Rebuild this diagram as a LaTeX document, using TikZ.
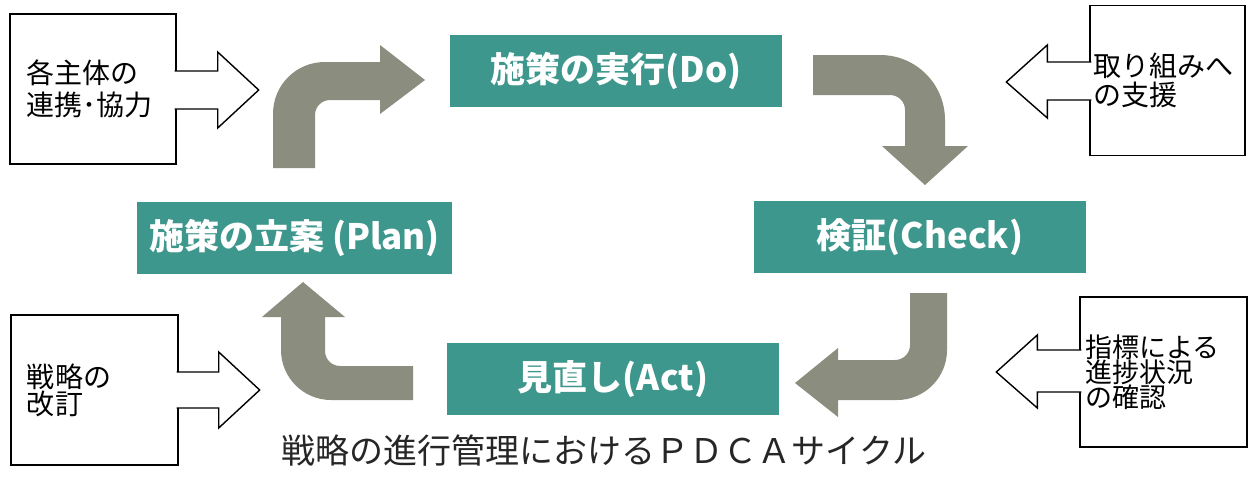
\documentclass[tikz,border=0pt]{standalone}
\usepackage{fontspec}
\newfontfamily\jp{Noto Sans CJK JP}
\definecolor{teal1}{RGB}{62,151,140}
\definecolor{arr}{RGB}{139,141,126}

\begin{document}
\begin{tikzpicture}[x=1pt,y=-1pt]
	\tikzstyle{pd}=[fill=teal1,text=white,font=\jp\bfseries\fontsize{35}{40}\selectfont,minimum height=72pt,inner sep=0pt]
	\tikzstyle{sb}=[draw,line width=1.4pt,minimum height=150pt,align=left]
	\tikzstyle{ga}=[fill=arr]
	\tikzstyle{wa}=[fill=white,draw,line width=1.4pt,line join=miter]

	\useasboundingbox (0,0) rectangle (1257,496);

	% PDCA
	\node[pd,minimum width=332pt] (do) at (616,71) {施策の実行(Do)};
	\node[pd,minimum width=332pt] (check) at (920,237) {検証(Check)};
	\node[pd,minimum width=332pt] (act) at (613,379) {見直し(Act)};
	\node[pd,minimum width=315pt] (plan) at (294.5,238) {施策の立案 (Plan)};

	% side boxes
	\node[sb,inner xsep=16pt,text width=134pt,font=\jp\fontsize{28}{32}\selectfont] (renkei) at (93,89) {各主体の\\連携･協力};
	\node[sb,inner xsep=3pt,text width=149pt,font=\jp\fontsize{28}{29}\selectfont] (shien) at (1167.5,80.5) {取り組みへ\\の支援};
	\node[sb,inner xsep=16pt,text width=135pt,font=\jp\fontsize{28}{27}\selectfont] (kaitei) at (94.5,390) {戦略の\\改訂};
	\node[sb,inner xsep=5pt,text width=157pt,font=\jp\fontsize{27}{25}\selectfont] (kakunin) at (1163.5,372) {指標による\\進捗状況\\の確認};

	\path[wa] (renkei.east) ++(-2,-18) -- ++(43,0) -- ++(0,-19) -- ++(41,38) -- ++(-41,38) -- ++(0,-19) -- ++(-43,0);
	\path[wa] (shien.west) ++(2,-18.5) -- ++(-44,0) -- ++(0,-17) -- ++(-41,37) -- ++(41,36) -- ++(0,-18) -- ++(44,0);
	\path[wa] (kaitei.east) ++(-2,-18) -- ++(42,0) -- ++(0,-20) -- ++(41,38) -- ++(-41,38) -- ++(0,-20) -- ++(-42,0);
	\path[wa] (kakunin.west) ++(2,-22) -- ++(-44,0) -- ++(0,-15) -- ++(-41,37) -- ++(41,36) -- ++(0,-16) -- ++(44,0);

	% cycle arrows
	\fill[ga] (273,168) -- (273,114) .. controls (273,85) and (296,62) .. (325,62) -- (380,62) -- (380,45) -- (425,80)
		-- (380,114) -- (380,100) -- (330,100) .. controls (321.7,100) and (315,106.7) .. (315,115) -- (315,168) -- cycle;
	\fill[ga] (813,55) -- (880,55) .. controls (916,55) and (945,84) .. (945,120) -- (945,146) -- (968,146) -- (925,185)
		-- (882,146) -- (905,146) -- (905,110) .. controls (905,101.7) and (898.3,95) .. (890,95) -- (813,95) -- cycle;
	\fill[ga] (910,293) -- (947,293) -- (947,350) .. controls (947,377.6) and (924.6,400) .. (897,400) -- (838,400) -- (838,417)
		-- (795,383) -- (838,348) -- (838,360) -- (895,360) .. controls (903.3,360) and (910,353.3) .. (910,345) -- cycle;
	\fill[ga] (413,366) -- (340,366) .. controls (331.7,366) and (325,359.3) .. (325,351) -- (325,317) -- (345,317) -- (303,282)
		-- (262,317) -- (281,317) -- (281,350) .. controls (281,377.6) and (303.4,400) .. (331,400) -- (413,400) -- cycle;

	\node[font=\jp\fontsize{34}{38}\selectfont,text=black!85] (title) at (604,451) {戦略の進行管理におけるＰＤＣＡサイクル};
\end{tikzpicture}
\end{document}
